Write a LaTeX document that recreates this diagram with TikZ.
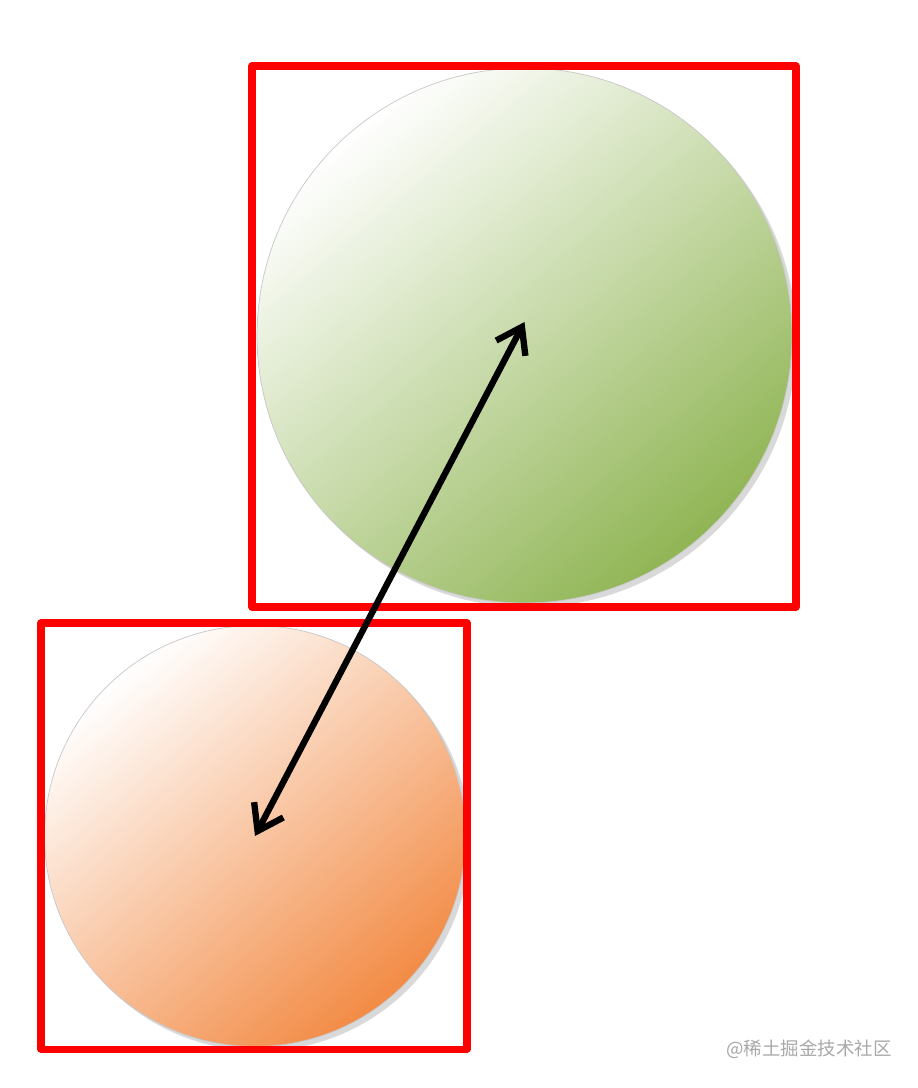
\documentclass[tikz,border=0pt]{standalone}
\usepackage{fontspec}
\newfontfamily\cjk{Noto Sans CJK SC}
\usetikzlibrary{arrows.meta,shadows}
\newcommand{\BOXPT}{4pt}
\newcommand{\ARRPT}{3.6pt}
\definecolor{myred}{rgb}{1.0,0.0,0.0}
\definecolor{mygreen}{rgb}{0.565,0.710,0.330}
\definecolor{myorange}{rgb}{0.950,0.545,0.270}
\definecolor{myrim}{rgb}{0.78,0.78,0.78}
\definecolor{mymark}{rgb}{0.66,0.66,0.66}

\begin{document}
\begin{tikzpicture}[x=0.02cm,y=-0.02cm,
	ball/.style={circle,inner sep=0pt,outer sep=0pt,draw=myrim,line width=0.4pt,
		drop shadow={shadow xshift=2.5pt,shadow yshift=-2.5pt,opacity=0.3,fill=gray}},
	greenball/.style={ball,top color=white,bottom color=mygreen,shading angle=40},
	orangeball/.style={ball,top color=white,bottom color=myorange,shading angle=40},
	frame/.style={draw=myred,line width=\BOXPT,line join=round}]

		\useasboundingbox (0,0) rectangle (918,1088);

		%%
		\node[greenball,minimum size=10.7cm] (green) at (524.5,335.5) {};
		\node[orangeball,minimum size=8.42cm] (orange) at (255,836) {};

		\draw[frame] (252,66) rectangle (796,607);
		\draw[frame] (41,623) rectangle (467,1049);

		%%
		\coordinate (gtip) at ([yshift=0.27cm]green.center);
		\coordinate (otip) at (orange.center);
		\draw[{Straight Barb[length=0.48cm,width=0.66cm]}-{Straight Barb[length=0.48cm,width=0.66cm]},
			color=black,line width=\ARRPT,line cap=round,line join=round] (otip) -- (gtip);

		\node[font=\cjk\fontsize{10.5pt}{12pt}\selectfont,text=mymark,inner sep=0pt] (mark) at (809,1049) {@稀土掘金技术社区};

	\end{tikzpicture}
\end{document}
